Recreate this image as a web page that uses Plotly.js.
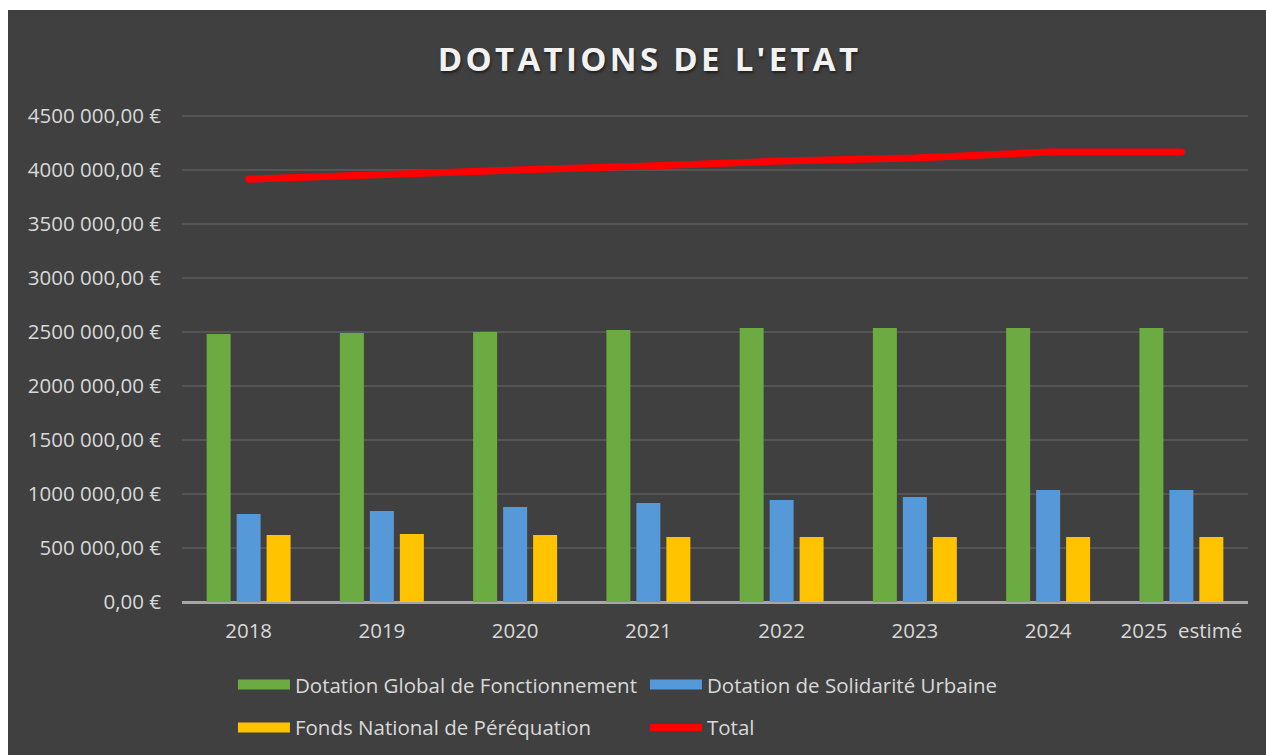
<!DOCTYPE html>
<html>
<head>
<meta charset="utf-8">
<script src="https://cdn.plot.ly/plotly-3.0.1.min.js"></script>
<style>
  html, body { margin:0; padding:0; background:#ffffff; }
  #chart { position:absolute; left:8px; top:10px; width:1258px; height:745px; }
  #chart .gtitle { letter-spacing:3.3px; }
  #chart .scatterlayer path.js-line { stroke-linecap:round; }
</style>
</head>
<body>
<div id="chart"></div>
<script>
// ---- Data ----
const years = ['2018','2019','2020','2021','2022','2023','2024','2025  estimé'];
const dgf   = [2481000, 2491000, 2500000, 2518000, 2537000, 2537000, 2537000, 2537000];
const dsu   = [ 815000,  843000,  880000,  917000,  944000,  972000, 1037000, 1037000];
const fnp   = [ 620000,  630000,  620000,  602000,  602000,  602000,  602000,  602000];
const total = [3916000, 3964000, 4000000, 4037000, 4083000, 4111000, 4167000, 4167000];

const yTicks = [0, 500000, 1000000, 1500000, 2000000, 2500000, 3000000, 3500000, 4000000, 4500000];
const yTickText = ['0,00 €','500 000,00 €','1000 000,00 €','1500 000,00 €','2000 000,00 €',
  '2500 000,00 €','3000 000,00 €','3500 000,00 €','4000 000,00 €','4500 000,00 €'];

const FONT = 'Open Sans, Noto Sans, sans-serif';
const TXT = '#d9d9d9';

// bars carry no legend entry themselves; a wide swatch entry stands in for each (Excel style)
function bar(name, y, color){
  return { type:'bar', name, x:years, y, marker:{ color }, legendgroup:name, showlegend:false,
    hovertemplate:'%{x}: %{y:,.2f} €<extra>'+name+'</extra>' };
}
function swatch(name, color, legend){
  // one empty point so the entry is listed; nothing gets drawn in the plot
  return { type:'scatter', mode:'lines', name, x:[years[0]], y:[null], legendgroup:name, legend,
    line:{ color, width:14 }, hoverinfo:'skip' };
}

const names = ['Dotation Global de Fonctionnement','Dotation de Solidarité Urbaine','Fonds National de Péréquation'];
const colors = ['#6cab41','#5699d8','#ffc300'];

const traces = [
  bar(names[0], dgf, colors[0]),
  bar(names[1], dsu, colors[1]),
  bar(names[2], fnp, colors[2]),
  swatch(names[0], colors[0], 'legend'),
  swatch(names[1], colors[1], 'legend'),
  swatch(names[2], colors[2], 'legend2'),
  { type:'scatter', mode:'lines', name:'Total', x:years, y:total, legend:'legend2',
    line:{ color:'#ff0000', width:7, shape:'linear' } }
];

const legendBase = {
  orientation:'h', entrywidth:345, entrywidthmode:'pixels',
  font:{ family:FONT, size:20.5, color:TXT }, bgcolor:'rgba(0,0,0,0)',
  xanchor:'left', yanchor:'middle', x:0.0478, itemwidth:52
};

const layout = {
  width:1258, height:745,
  paper_bgcolor:'#404040', plot_bgcolor:'#404040',
  margin:{ l:174, r:18, t:105, b:153, autoexpand:false },
  title:{ text:'<b>DOTATIONS DE L\'ETAT</b>', x:0.51, xref:'container', y:0.933, yref:'container',
    xanchor:'center', yanchor:'middle',
    font:{ family:FONT, size:33, color:'#f2f2f2', shadow:'1px 2px 3px rgba(0,0,0,0.55)' } },
  barmode:'group', bargap:0.325, bargroupgap:0.2,
  xaxis:{ type:'category', tickfont:{ family:FONT, size:20.5, color:TXT }, ticks:'', showgrid:false,
    showline:false, zeroline:false, ticklabelstandoff:14 },
  yaxis:{ range:[0, 4510000], tickvals:yTicks, ticktext:yTickText, tickfont:{ family:FONT, size:20.5, color:TXT },
    gridcolor:'#555555', gridwidth:2, zeroline:true, zerolinecolor:'#a6a6a6', zerolinewidth:2.5,
    ticks:'', ticklen:0, showline:false, ticklabelstandoff:20 },
  showlegend:true,
  legend: Object.assign({}, legendBase, { y:-0.17 }),
  legend2: Object.assign({}, legendBase, { y:-0.258 })
};

Plotly.newPlot('chart', traces, layout, { displayModeBar:false });
</script>
</body>
</html>
